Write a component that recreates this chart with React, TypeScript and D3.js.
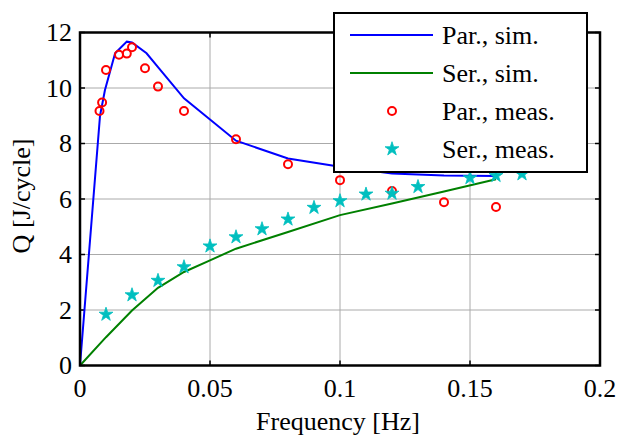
import React from "react";
import * as d3 from "d3";

const parSimF = [0, 0.0077, 0.0096, 0.0135, 0.018, 0.02, 0.0256, 0.03, 0.04, 0.06, 0.08, 0.1, 0.12, 0.14, 0.16];
const parSimQ = [0, 9.0, 9.93, 11.25, 11.67, 11.64, 11.25, 10.75, 9.63, 8.1, 7.46, 7.16, 6.92, 6.85, 6.83];

const serSimF = [0, 0.01, 0.02, 0.03, 0.04, 0.05, 0.06, 0.08, 0.1, 0.12, 0.14, 0.16];
const serSimQ = [0, 1.02, 1.98, 2.8, 3.37, 3.79, 4.21, 4.81, 5.42, 5.84, 6.27, 6.71];

const parMeasF = [0.0075, 0.0085, 0.01, 0.015, 0.018, 0.02, 0.025, 0.03, 0.04, 0.06, 0.08, 0.1, 0.12, 0.14, 0.16];
const parMeasQ = [9.17, 9.48, 10.65, 11.2, 11.24, 11.47, 10.71, 10.05, 9.17, 8.15, 7.25, 6.68, 6.29, 5.88, 5.71];

const serMeasF = [0.01, 0.02, 0.03, 0.04, 0.05, 0.06, 0.07, 0.08, 0.09, 0.1, 0.11, 0.12, 0.13, 0.15, 0.16, 0.17];
const serMeasQ = [1.84, 2.54, 3.06, 3.55, 4.3, 4.63, 4.92, 5.27, 5.69, 5.93, 6.17, 6.2, 6.44, 6.76, 6.84, 6.9];

const xTicks = [0, 0.05, 0.1, 0.15, 0.2];
const xTickLabels = ["0", "0.05", "0.1", "0.15", "0.2"];
const yTicks = [0, 2, 4, 6, 8, 10, 12];
const legendLabels = ["Par., sim.", "Ser., sim.", "Par., meas.", "Ser., meas."];

const W = 619, H = 437;
const L = 80, R = 600, T = 32.5, B = 365.5;
const FONT = "Liberation Serif";
const FS = 26;

export default function App() {
  const x = d3.scaleLinear().domain([0, 0.2]).range([L, R]);
  const y = d3.scaleLinear().domain([0, 12]).range([B, T]);
  const line = d3.line<[number, number]>().x(d => x(d[0])).y(d => y(d[1]));
  const parSim = line(parSimF.map((f, i) => [f, parSimQ[i]]))!;
  const serSim = line(serSimF.map((f, i) => [f, serSimQ[i]]))!;
  const star = d3.symbol().type(d3.symbolStar).size(60)()!;
  const tick = 5;

  const legX = 334, legY = 13, legW = 253, legH = 159;
  const rowY = [35, 73, 111, 149];
  const ts = { fontFamily: FONT, fontSize: FS };

  return (
    <svg width={W} height={H} style={{ position: "absolute", left: 0, top: 0, background: "#fff" }}>
      <rect x={0} y={0} width={W} height={H} fill="#fff" />
      {xTicks.slice(1, -1).map(t => (
        <line key={"gx" + t} x1={x(t)} x2={x(t)} y1={T} y2={B} stroke="#aaa" strokeWidth={1} />
      ))}
      {yTicks.slice(1, -1).map(t => (
        <line key={"gy" + t} x1={L} x2={R} y1={y(t)} y2={y(t)} stroke="#aaa" strokeWidth={1} />
      ))}
      {xTicks.map(t => (
        <g key={"tx" + t}>
          <line x1={x(t)} x2={x(t)} y1={B} y2={B - tick} stroke="#000" strokeWidth={1.5} />
          <line x1={x(t)} x2={x(t)} y1={T} y2={T + tick} stroke="#000" strokeWidth={1.5} />
        </g>
      ))}
      {yTicks.map(t => (
        <g key={"ty" + t}>
          <line x1={L} x2={L + tick} y1={y(t)} y2={y(t)} stroke="#000" strokeWidth={1.5} />
          <line x1={R} x2={R - tick} y1={y(t)} y2={y(t)} stroke="#000" strokeWidth={1.5} />
        </g>
      ))}
      <path d={parSim} fill="none" stroke="#0000ff" strokeWidth={2} />
      <path d={serSim} fill="none" stroke="#008000" strokeWidth={2} />
      {parMeasF.map((f, i) => (
        <circle key={"pm" + i} cx={x(f)} cy={y(parMeasQ[i])} r={4} fill="none" stroke="#ff0000" strokeWidth={2} />
      ))}
      {serMeasF.map((f, i) => (
        <path key={"sm" + i} d={star} transform={`translate(${x(f)},${y(serMeasQ[i])})`} fill="#00bfbf" stroke="#00bfbf" strokeWidth={0.8} />
      ))}
      <rect x={L} y={T} width={R - L} height={B - T} fill="none" stroke="#000" strokeWidth={2.5} />
      {xTicks.map((t, i) => (
        <text key={"lx" + t} x={x(t)} y={397} textAnchor="middle" style={ts}>{xTickLabels[i]}</text>
      ))}
      {yTicks.map(t => (
        <text key={"ly" + t} x={72} y={y(t) + 8.5} textAnchor="end" style={ts}>{t}</text>
      ))}
      <text x={338} y={430} textAnchor="middle" style={ts}>Frequency [Hz]</text>
      <text transform={`translate(30,196) rotate(-90)`} textAnchor="middle" style={ts}>Q [J/cycle]</text>
      <rect x={legX} y={legY} width={legW} height={legH} fill="#fff" stroke="#000" strokeWidth={2} />
      <line x1={350} x2={433} y1={rowY[0]} y2={rowY[0]} stroke="#0000ff" strokeWidth={2} />
      <line x1={350} x2={433} y1={rowY[1]} y2={rowY[1]} stroke="#008000" strokeWidth={2} />
      <circle cx={392} cy={rowY[2]} r={4} fill="none" stroke="#ff0000" strokeWidth={2} />
      <path d={star} transform={`translate(392,${rowY[3]})`} fill="#00bfbf" stroke="#00bfbf" strokeWidth={0.8} />
      {legendLabels.map((s, i) => (
        <text key={s} x={442} y={rowY[i] + 9} style={ts}>{s}</text>
      ))}
    </svg>
  );
}
